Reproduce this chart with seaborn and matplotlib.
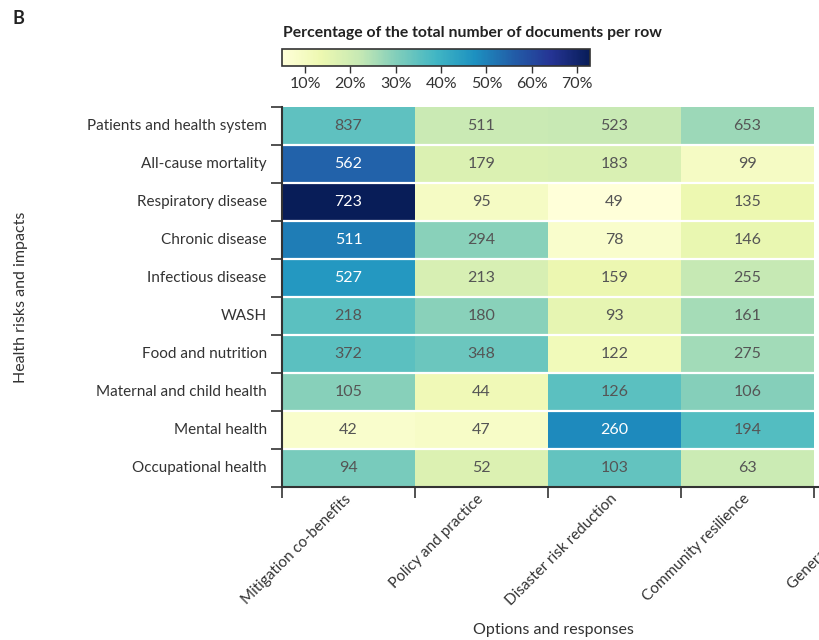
import numpy as np
import pandas as pd
import matplotlib
matplotlib.use("Agg")
import matplotlib.pyplot as plt
import seaborn as sns

sns.set_theme(style="white")
plt.rcParams['font.family'] = ['Lato', 'DejaVu Sans']

rows = ["Patients and health system", "All-cause mortality", "Respiratory disease",
        "Chronic disease", "Infectious disease", "WASH", "Food and nutrition",
        "Maternal and child health", "Mental health", "Occupational health"]
cols = ["Mitigation co-benefits", "Policy and practice", "Disaster risk reduction",
        "Community resilience", "General adaptation"]

mitigation = [837, 562, 723, 511, 527, 218, 372, 105, 42, 94]
policy = [511, 179, 95, 294, 213, 180, 348, 44, 47, 52]
disaster = [523, 183, 49, 78, 159, 93, 122, 126, 260, 103]
community = [653, 99, 135, 146, 255, 161, 275, 106, 194, 63]
general = [np.nan] * 10  # column cut off in the reference; values not visible

# estimated total number of documents per row
row_totals = [2412, 1020, 993, 1010, 1155, 616, 1051, 358, 535, 300]

counts = pd.DataFrame({c: v for c, v in zip(cols, [mitigation, policy, disaster, community, general])},
                      index=rows)
pct = counts.div(pd.Series(row_totals, index=rows), axis=0) * 100
annot = counts.map(lambda v: "" if pd.isna(v) else f"{int(v)}")

W, H = 819, 640
fig = plt.figure(figsize=(W / 100, H / 100), dpi=100)

def fx(px):
    return px / W

def fy(py):
    return 1 - py / H

ax = fig.add_axes([fx(282), fy(487), fx(5 * 133), (487 - 107) / H])
cax = fig.add_axes([fx(282), fy(66), fx(308), 17 / H])

sns.heatmap(pct, ax=ax, cmap="YlGnBu", annot=annot.values, fmt="",
            annot_kws={"fontsize": 11.5}, cbar=True, cbar_ax=cax,
            cbar_kws={"orientation": "horizontal"}, linewidths=0)

for t in ax.texts:
    r, g, b, *_ = matplotlib.colors.to_rgba(t.get_color())
    if not (r > 0.9 and g > 0.9 and b > 0.9):
        t.set_color("#555555")

nr, nc = pct.shape
for i in range(1, nr):
    ax.axhline(i, color="white", lw=1.6)

ax.set_xticks(np.arange(nc + 1), minor=True)
ax.set_yticks(np.arange(nr + 1), minor=True)
ax.tick_params(which="minor", length=8, width=1.2, color="#333333",
               bottom=True, left=True)
ax.tick_params(which="major", length=0)
ax.tick_params(axis="y", which="major", pad=11, labelsize=11, labelcolor="#333333")
ax.tick_params(axis="x", which="major", pad=7, labelsize=11, labelcolor="#333333")
ax.set_yticklabels(rows, rotation=0)
ax.set_xticklabels(cols, rotation=45, ha="right", va="center", rotation_mode="anchor")
for s in ["left", "bottom"]:
    ax.spines[s].set_visible(True)
    ax.spines[s].set_color("#333333")
    ax.spines[s].set_linewidth(1.5)

ax.set_ylabel("Health risks and impacts", fontsize=11.5, color="#333333", labelpad=0)
ax.yaxis.set_label_coords((28 - 282) / 665, 0.5)
ax.set_xlabel("Options and responses", fontsize=11.5, color="#333333")
ax.xaxis.set_label_coords((553 - 282) / 665, -(623 - 487) / 380)

cbar = ax.collections[0].colorbar
cbar.set_ticks([10, 20, 30, 40, 50, 60, 70])
cbar.set_ticklabels([f"{v}%" for v in [10, 20, 30, 40, 50, 60, 70]])
cax.tick_params(length=5, width=1, color="#333333", labelsize=11.5, labelcolor="#333333", pad=3)
cbar.outline.set_edgecolor("#333333")
cbar.outline.set_linewidth(1.2)

fig.text(fx(283), fy(33), "Percentage of the total number of documents per row",
         fontsize=11.3, fontweight="bold", color="#222222", va="center", ha="left")
fig.text(fx(12), fy(18), "B", fontsize=13, fontweight="bold", color="#222222",
         va="center", ha="left")

fig.savefig("out.png", dpi=100)
